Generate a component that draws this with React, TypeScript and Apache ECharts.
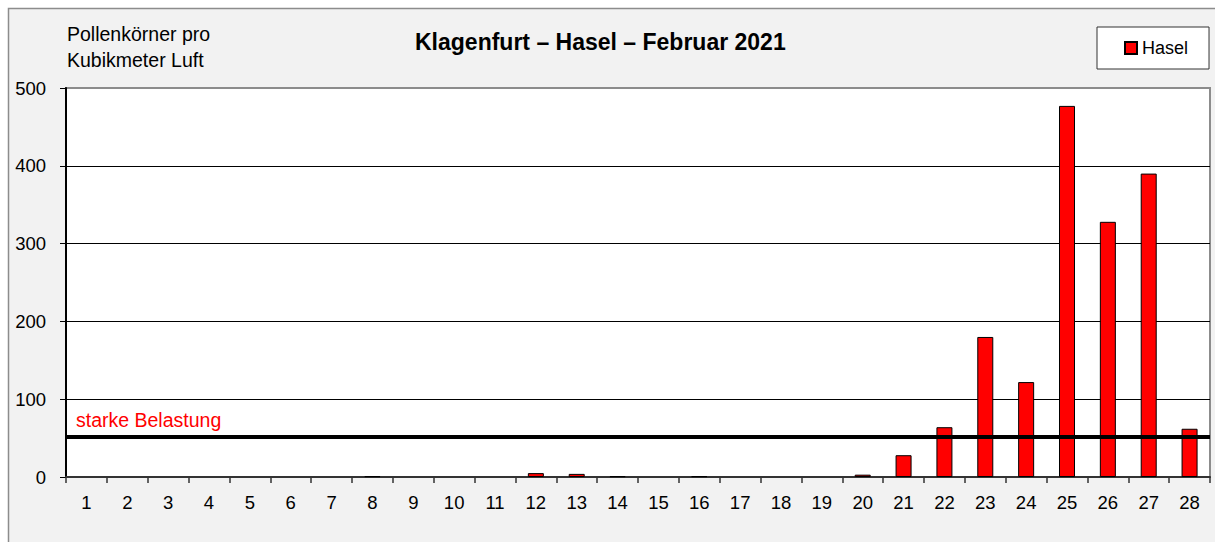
import React, { useEffect, useRef } from "react";
import * as echarts from "echarts";

const days = ["1","2","3","4","5","6","7","8","9","10","11","12","13","14","15","16","17","18","19","20","21","22","23","24","25","26","27","28"];
const hasel = [0,0,0,0,0,0,0,1,0,0,0,5,4,1,0,1,0,0,0,3,28,64,180,122,477,328,390,62];
const threshold = 52;
const thresholdLabel = "starke Belastung";
const yMin = 0;
const yMax = 500;
const yInterval = 100;
const chartTitle = "Klagenfurt – Hasel – Februar 2021";
const unitLabel = "Pollenkörner pro\nKubikmeter Luft";
const seriesName = "Hasel";

const FONT = "'Liberation Sans', Arial, sans-serif";

export default function App() {
  const ref = useRef<HTMLDivElement>(null);
  useEffect(() => {
    document.body.style.margin = "0";
    const chart = echarts.init(ref.current!, undefined, { renderer: "svg" });
    chart.setOption({
      animation: false,
      textStyle: { fontFamily: FONT },
      graphic: [
        {
          type: "rect",
          z: -10,
          silent: true,
          shape: { x: 8.5, y: 8.5, width: 1240, height: 600 },
          style: { fill: "#f2f2f2", stroke: "#8c8c8c", lineWidth: 1.5 },
        },
      ],
      title: [
        {
          text: chartTitle,
          left: 415,
          top: 30,
          padding: 0,
          textStyle: { fontFamily: FONT, fontSize: 23, fontWeight: "bold", color: "#000" },
        },
        {
          text: unitLabel,
          left: 67,
          top: 21,
          padding: 0,
          textStyle: { fontFamily: FONT, fontSize: 19.5, fontWeight: "normal", color: "#000", lineHeight: 26 },
        },
      ],
      legend: {
        left: 1097,
        top: 27,
        data: [seriesName],
        icon: "rect",
        itemWidth: 12,
        itemHeight: 12,
        padding: [12, 21, 12, 27],
        backgroundColor: "#fff",
        borderColor: "#333",
        borderWidth: 1,
        textStyle: { fontFamily: FONT, fontSize: 18, color: "#000" },
      },
      grid: {
        left: 66,
        top: 88,
        right: 5,
        bottom: 65,
        show: true,
        backgroundColor: "#fff",
        borderColor: "#8c8c8c",
        borderWidth: 2,
      },
      xAxis: {
        type: "category",
        data: days,
        boundaryGap: true,
        axisLine: { lineStyle: { color: "#333", width: 2 } },
        axisTick: { show: true, length: 6, alignWithLabel: false, lineStyle: { color: "#333", width: 1.5 } },
        axisLabel: { fontFamily: FONT, fontSize: 18.5, color: "#000", margin: 16, interval: 0 },
      },
      yAxis: {
        type: "value",
        min: yMin,
        max: yMax,
        interval: yInterval,
        axisLine: { show: true, lineStyle: { color: "#000", width: 2 } },
        axisTick: { show: true, length: 6, lineStyle: { color: "#000", width: 1 } },
        axisLabel: { fontFamily: FONT, fontSize: 18.5, color: "#000", margin: 20 },
        splitLine: { show: true, showMinLine: false, showMaxLine: false, lineStyle: { color: "#000", width: 1 } },
      },
      series: [
        {
          name: seriesName,
          type: "bar",
          data: hasel.map((v) => (v === 0 ? { value: v, itemStyle: { borderWidth: 0 } } : v)),
          barWidth: 16,
          itemStyle: { color: "#ff0000", borderColor: "#000", borderWidth: 1 },
          markLine: {
            silent: true,
            symbol: ["none", "none"],
            lineStyle: { color: "#000", width: 4, type: "solid" },
            label: {
              show: true,
              position: "insideStartTop",
              formatter: thresholdLabel,
              color: "#ff0000",
              fontFamily: FONT,
              fontSize: 19.5,
              distance: 7,
              padding: [0, 0, 0, 3],
            },
            data: [{ yAxis: threshold }],
          },
        },
      ],
    });
    return () => chart.dispose();
  }, []);
  return <div ref={ref} style={{ width: 1215, height: 542 }} />;
}
